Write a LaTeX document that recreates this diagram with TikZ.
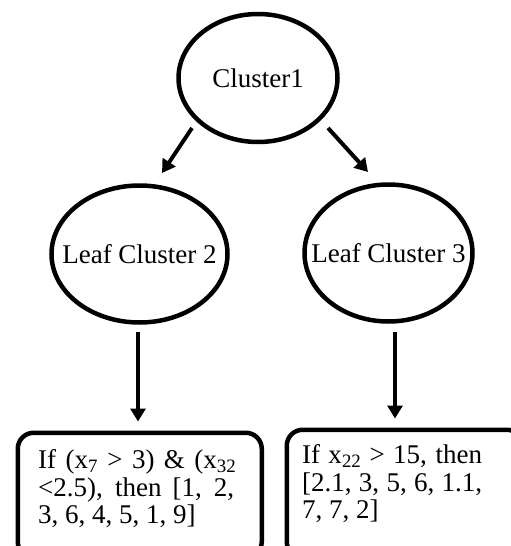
\documentclass[tikz,border=0pt]{standalone}
\usepackage{fontspec}
\setmainfont{Liberation Serif}
\usetikzlibrary{shapes.geometric,arrows.meta}
\begin{document}
\begin{tikzpicture}[x=1pt,y=-1pt,
  ell/.style={draw,ellipse,line width=4.5pt,inner sep=0pt,font=\fontsize{27}{28}\selectfont},
  arr/.style={line width=4pt,-{Triangle[length=13pt,width=15pt]}},
  rbox/.style={draw,rectangle,rounded corners=16pt,line width=4.5pt,anchor=north west,inner sep=0pt},
  txt/.style={anchor=north west,inner sep=0pt,align=left,font=\fontsize{27}{27.5}\selectfont}]
\useasboundingbox (0,0) rectangle (511,546);
\clip (0,0) rectangle (511,546);
% ellipses
\node[ell,minimum width=159pt,minimum height=128pt] (c1) at (258,78) {\makebox[0pt]{Cluster1}};
\node[ell,minimum width=176pt,minimum height=137pt] (l2) at (139.5,254) {\makebox[0pt]{Leaf Cluster 2}};
\node[ell,minimum width=168pt,minimum height=137pt] (l3) at (388.5,253) {\makebox[0pt]{Leaf Cluster 3}};
% boxes
\node[rbox,minimum width=244pt,minimum height=125pt] (b1) at (15.5,430.5) {};
\node[rbox,minimum width=236pt,minimum height=128pt] (b2) at (284.5,427.5) {};
% box texts
\node[txt] (t1) at (38,449.6) {\makebox[198pt][s]{If (x\textsubscript{7} > 3) \& (x\textsubscript{32}}\\
  \makebox[196pt][s]{<2.5), then [1, 2,}\\
  3, 6, 4, 5, 1, 9]};
\node[txt] (t2) at (302,444.6) {\makebox[180pt][s]{If x\textsubscript{22} > 15, then}\\
  \makebox[180pt][s]{[2.1, 3, 5, 6, 1.1,}\\
  7, 7, 2]};
% arrows
\draw[arr] ([shift={(-66,50)}]c1.center) -- ([shift={(22.5,-81)}]l2.center);
\draw[arr] ([shift={(70,50)}]c1.center) -- ([shift={(-20.5,-81)}]l3.center);
\draw[arr] ([shift={(-1.5,78)}]l2.center) -- ([shift={(122.5,-9)}]b1.north west);
\draw[arr] ([shift={(6.5,79)}]l3.center) -- ([shift={(110.5,-9)}]b2.north west);
\end{tikzpicture}
\end{document}
